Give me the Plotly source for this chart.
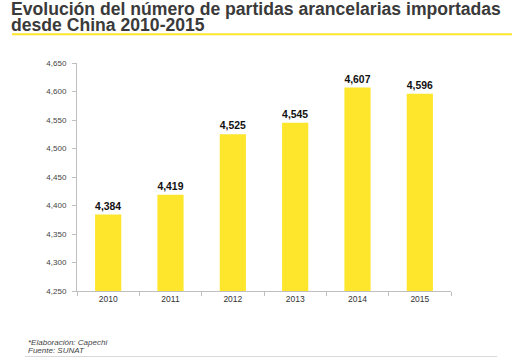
import plotly.graph_objects as go

years = ["2010", "2011", "2012", "2013", "2014", "2015"]
values = [4384, 4419, 4525, 4545, 4607, 4596]
labels = ["4,384", "4,419", "4,525", "4,545", "4,607", "4,596"]
y_ticks = [4250, 4300, 4350, 4400, 4450, 4500, 4550, 4600, 4650]

yellow = "#FDE62B"
FONT = "Liberation Sans, Arial"

# plot area in pixels: x 77..451, y 63..291
L, R, T, B = 77, 451, 63, 291
W, H = 524, 358


def px(x):
    return (x - L) / (R - L)


def py(y):
    return (B - y) / (B - T)


fig = go.Figure(go.Bar(
    x=years, y=values, marker_color=yellow, marker_line_width=0,
    text=labels, textposition="outside", cliponaxis=False,
    textfont=dict(family=FONT, size=10.5, color="#111111"),
    texttemplate="<b>%{text}</b>",
))

fig.update_layout(
    width=W, height=H,
    margin=dict(l=L, r=W - R, t=T, b=H - B, autoexpand=False),
    paper_bgcolor="white", plot_bgcolor="white",
    bargap=0.58,
    showlegend=False,
    font=dict(family=FONT, size=8, color="#444444"),
    xaxis=dict(
        showline=True, linecolor="#BFBFBF", linewidth=1,
        ticks="outside", ticklen=4, tickcolor="#BFBFBF",
        tickson="boundaries", showgrid=False,
        tickfont=dict(size=8.5, color="#333333"),
    ),
    yaxis=dict(
        range=[4250, 4650], tickvals=y_ticks, tickformat=",",
        showline=True, linecolor="#BFBFBF", linewidth=1,
        ticks="outside", ticklen=4, tickcolor="#BFBFBF",
        ticklabelstandoff=4,
        showgrid=False, zeroline=False,
        tickfont=dict(size=8, color="#444444"),
    ),
)

title_lines = ["Evolución del número de partidas arancelarias importadas",
               "desde China 2010-2015"]
title_html = "<br>".join(
    f'<span style="font-size:17.6px"><b>{t}</b></span>' for t in title_lines)
fig.add_annotation(
    xref="paper", yref="paper", x=px(9), y=py(17.2),
    xanchor="left", yanchor="middle", align="left", showarrow=False,
    text=title_html,
    font=dict(family=FONT, size=12.6, color="#3A3A3A"),
)

fig.add_shape(type="line", xref="paper", yref="paper",
              x0=px(12), x1=px(512), y0=py(34.3), y1=py(34.3),
              line=dict(color=yellow, width=2))

foot_lines = ["*Elaboración: Capechi", "Fuente: SUNAT"]
foot_html = "<br>".join(f"<i>{t}</i>" for t in foot_lines)
fig.add_annotation(
    xref="paper", yref="paper", x=px(26), y=py(346),
    xanchor="left", yanchor="middle", align="left", showarrow=False,
    text=f'<span style="font-size:8px">{foot_html}</span>',
    font=dict(family=FONT, size=6.2, color="#444444"),
)

fig.add_shape(type="line", xref="paper", yref="paper",
              x0=px(25), x1=px(497), y0=py(356.5), y1=py(356.5),
              line=dict(color="#D9D9D9", width=1))

fig.write_html("out.html",
               config={"displayModeBar": False},
               post_script="document.body.style.margin='0';"
                           "document.body.style.overflow='hidden';")
